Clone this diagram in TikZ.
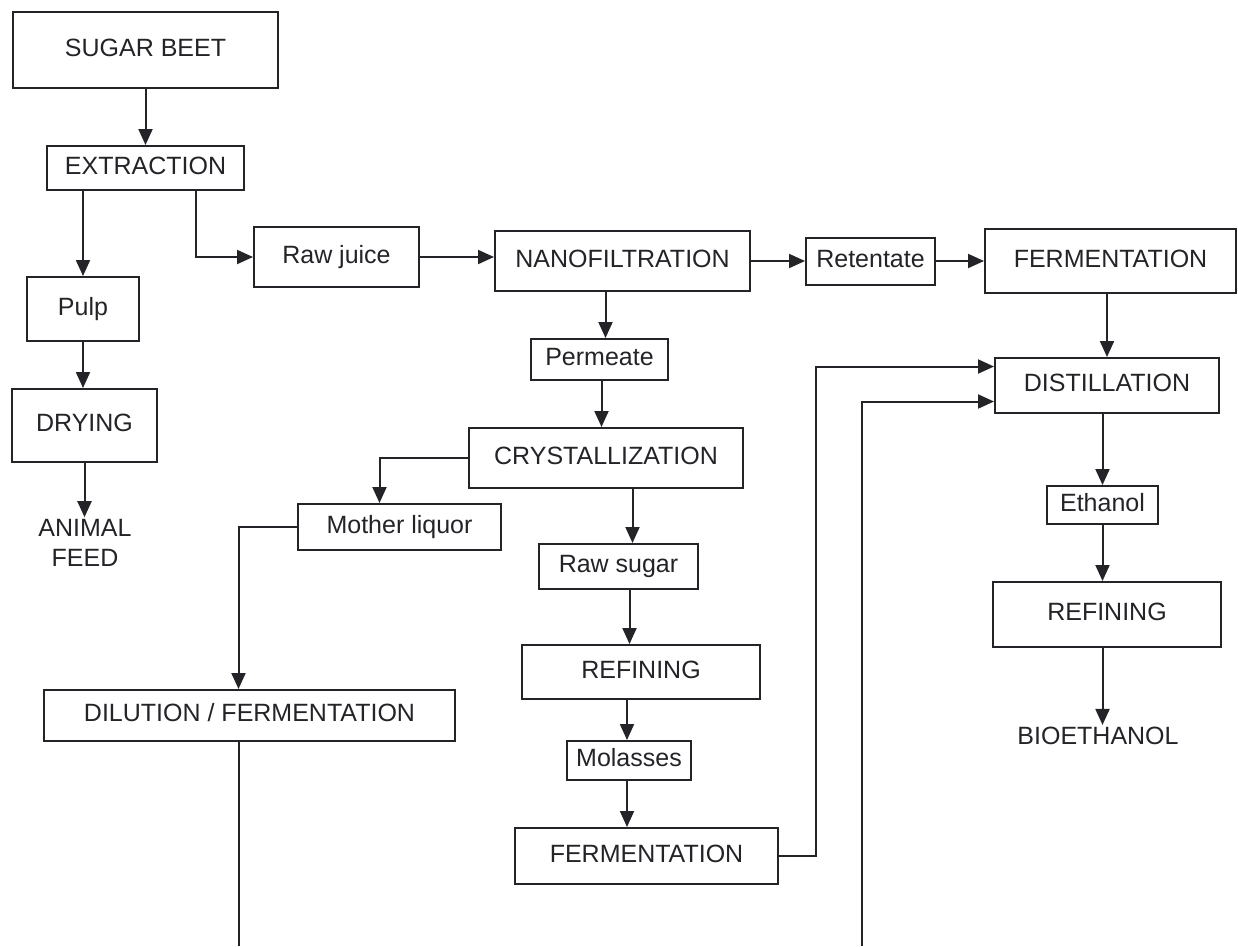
\documentclass[tikz,border=0pt]{standalone}
\usepackage{fontspec}
\setmainfont{Liberation Sans}
\usetikzlibrary{arrows.meta}
\definecolor{flowink}{RGB}{35,35,40}

\begin{document}
\begin{tikzpicture}[x=1pt, y=-1pt,
  box/.style={rectangle, draw=flowink, line width=2pt, inner sep=0pt, text=flowink,
    font=\fontsize{25}{30}\selectfont, text height=18pt, text depth=6pt},
  label/.style={text=flowink, font=\fontsize{25}{30}\selectfont, align=center, inner sep=2pt},
  flow/.style={draw=flowink, line width=2pt, -{Triangle[length=16pt,width=14pt]}},
  link/.style={draw=flowink, line width=2pt}]
\useasboundingbox (0,0) rectangle (1238,946);

% Beet and pulp branch
\node[box, minimum width=265pt, minimum height=76pt] (sugar) at (145.5,50) {SUGAR BEET};
\node[box, minimum width=197pt, minimum height=44pt] (extraction) at (145.5,168) {EXTRACTION};
\node[box, minimum width=112pt, minimum height=64pt] (pulp) at (83,309) {Pulp};
\node[box, minimum width=145pt, minimum height=73pt] (drying) at (84.5,425.5) {DRYING};
\node[label] (feed) at (85,543) {ANIMAL\\FEED};

% Juice and nanofiltration
\node[box, minimum width=165pt, minimum height=60pt] (rawjuice) at (336.5,257) {Raw juice};
\node[box, minimum width=255pt, minimum height=60pt] (nano) at (622.5,261) {NANOFILTRATION};
\node[box, minimum width=129pt, minimum height=47pt] (retentate) at (870.5,261) {Retentate};
\node[box, minimum width=251pt, minimum height=64pt] (fermtop) at (1110.5,261) {FERMENTATION};

% Sugar line
\node[box, minimum width=137pt, minimum height=41pt] (permeate) at (599.5,359.5) {Permeate};
\node[box, minimum width=274pt, minimum height=60pt] (cryst) at (606,458) {CRYSTALLIZATION};
\node[box, minimum width=203pt, minimum height=46pt] (mother) at (399.5,527) {Mother liquor};
\node[box, minimum width=159pt, minimum height=45pt] (rawsugar) at (618.5,566.5) {Raw sugar};
\node[box, minimum width=238pt, minimum height=54pt] (refmid) at (641,672) {REFINING};
\node[box, minimum width=124pt, minimum height=39pt] (molasses) at (629,760.5) {Molasses};
\node[box, minimum width=263pt, minimum height=56pt] (fermlow) at (646.5,856) {FERMENTATION};
\node[box, minimum width=411pt, minimum height=51pt] (dilution) at (249.5,715.5) {DILUTION / FERMENTATION};

% Ethanol line
\node[box, minimum width=224pt, minimum height=55pt] (distil) at (1107,385.5) {DISTILLATION};
\node[box, minimum width=111pt, minimum height=38pt] (ethanol) at (1102.5,505) {Ethanol};
\node[box, minimum width=228pt, minimum height=65pt] (refright) at (1107,614.5) {REFINING};
\node[label] (bio) at (1098,736) {BIOETHANOL};

% Loose ends at the lower edge
\coordinate (cutA) at (238.5,946);
\coordinate (cutB) at (862,946);

% Arrows
\draw[flow] (sugar) -- (extraction);
\draw[flow] (pulp.north |- extraction.south) -- (pulp.north);
\draw[flow] ([xshift=50pt]extraction.south) |- (rawjuice.west);
\draw[flow] (pulp.south) -- (pulp.south |- drying.north);
\draw[flow] (drying.south) -- (drying.south |- feed.north);
\draw[flow] (rawjuice.east) -- (rawjuice.east -| nano.west);
\draw[flow] (nano.east) -- (nano.east -| retentate.west);
\draw[flow] (retentate.east) -- (retentate.east -| fermtop.west);
\draw[flow] ([xshift=6pt]permeate.north |- nano.south) -- ([xshift=6pt]permeate.north);
\draw[flow] ([xshift=2pt]permeate.south) -- ([xshift=2pt]permeate.south |- cryst.north);
\draw[flow] (distil.north |- fermtop.south) -- (distil.north);
\draw[flow] (cryst.west) -| ([xshift=-20pt]mother.north);
\draw[flow] ([xshift=14pt]rawsugar.north |- cryst.south) -- ([xshift=14pt]rawsugar.north);
\draw[flow] (mother.west) -| ([xshift=-11pt]dilution.north);
\draw[flow] ([xshift=11pt]rawsugar.south) -- ([xshift=11pt]rawsugar.south |- refmid.north);
\draw[flow] ([xshift=-2pt]molasses.north |- refmid.south) -- ([xshift=-2pt]molasses.north);
\draw[flow] ([xshift=-2pt]molasses.south) -- ([xshift=-2pt]molasses.south |- fermlow.north);
\draw[flow] (fermlow.east) -- ++(37,0) |- ([yshift=19pt]distil.west);
\draw[flow] (cutB) |- ([yshift=-16pt]distil.west);
\draw[link] ([xshift=-11pt]dilution.south) -- (cutA);
\draw[flow] (ethanol.north |- distil.south) -- (ethanol.north);
\draw[flow] (ethanol.south) -- (ethanol.south |- refright.north);
\draw[flow] (ethanol.south |- refright.south) -- (ethanol.south |- bio.north);
\end{tikzpicture}
\end{document}
